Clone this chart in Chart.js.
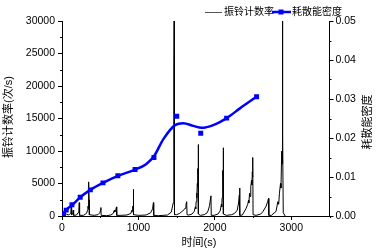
<!DOCTYPE html>
<html><head><meta charset="utf-8">
<script src="https://cdn.jsdelivr.net/npm/chart.js@4.4.1/dist/chart.umd.min.js"></script>
<style>html,body{margin:0;padding:0;background:#fff;}canvas{display:block;}</style>
</head><body>
<canvas id="c" width="378" height="252"></canvas>
<script>
// ---- data ----
const seriesNames = ['振铃计数率', '耗散能密度'];
const axisTitles = { x: '时间(s)', y: '振铃计数率(次/s)', y2: '耗散能密度' };

const countTime = [
  0,20,40,60,80,100,
  115,121,126,140,147,152,
  190,210,220,226,230,
  280,320,335,340,343,345,347,350,352,355,358,
  420,470,495,505,509,512,
  580,640,670,685,690,700,713,716,
  760,850,900,915,920,925,930,933,935,938,
  1000,1100,1160,1185,1196,1200,
  1260,1380,1430,1455,1462,1464,1467,1470,1474,
  1500,1540,1570,1600,1610,1622,1632,1636,
  1660,1700,1730,1745,1750,1755,1762,1766,1770,1775,1778,1780,1783,1786,
  1810,1860,1900,1914,1930,1949,1953,
  1990,2040,2070,2085,2090,2095,2100,2103,2105,2108,2110,2113,
  2150,2220,2258,2293,2310,2320,2324,2328,
  2360,2410,2430,2440,2445,2454,2460,2470,2480,2485,2490,2494,2497,2500,
  2540,2600,2628,2670,2690,2702,2706,
  2740,2800,2824,2835,2845,2859,2865,2875,2880,2883,2886,2890,2895,2920
];
const countRate = [
  0,200,100,300,150,250,
  400,1500,200,300,900,100,
  150,500,900,2050,100,
  100,400,900,1500,1100,2200,1700,3300,5250,2500,200,
  100,200,500,900,1300,100,
  50,150,400,900,600,800,1400,100,
  100,150,400,900,700,1500,1300,2400,4100,200,
  100,150,500,1100,2050,100,
  50,150,600,2000,4500,21500,30000,5000,200,
  200,400,700,1000,1200,1800,2200,200,
  150,300,700,1400,1100,2200,3500,2800,5000,4500,7300,6000,11000,300,
  100,200,500,900,1600,3100,100,
  100,300,800,1800,1400,2800,4500,3800,7000,5800,10500,300,
  100,200,400,900,2000,3200,4300,100,
  150,1200,1800,2400,2000,3500,3000,4500,5500,4800,6800,6000,9000,200,
  100,300,660,1500,2200,2700,100,
  100,700,2200,1800,3500,5000,4300,10000,8000,16000,30000,12000,500,0
];

const energyTime  = [20, 55, 130, 238, 371, 536, 731, 956, 1203, 1501, 1815, 2154, 2546];
const energyValue = [0.0005, 0.0015, 0.0029, 0.0048, 0.0067, 0.0085, 0.0103, 0.0119, 0.0150, 0.0256, 0.0212, 0.0251, 0.0306];

const fitTime  = [0, 52, 138, 238, 371, 536, 731, 956, 1100, 1203, 1326, 1479, 1587, 1718, 1828, 1979, 2154, 2328, 2546];
const fitValue = [0.0002, 0.0015, 0.0029, 0.0048, 0.0067, 0.0085, 0.0103, 0.0119, 0.0133, 0.0153, 0.0197, 0.0233, 0.0238, 0.0231, 0.0226, 0.0233, 0.0251, 0.0276, 0.0306];

const xTicks  = [0, 1000, 2000, 3000];
const xMinor  = [500, 1500, 2500, 3500];
const yTicks  = [0, 5000, 10000, 15000, 20000, 25000, 30000];
const yMinor  = [2500, 7500, 12500, 17500, 22500, 27500];
const y2Ticks = [0, 0.01, 0.02, 0.03, 0.04, 0.05];
const y2Minor = [0.005, 0.015, 0.025, 0.035, 0.045];

// ---- chart ----
const FONT = '"Liberation Sans", Arial, "Noto Sans CJK SC", sans-serif';
Chart.defaults.font.family = FONT;
Chart.defaults.font.size = 10.5;
Chart.defaults.color = '#000';

const BLUE = '#0000ff';

const bg = {
  id: 'bg',
  beforeDraw(chart) {
    const c = chart.ctx;
    c.save(); c.fillStyle = '#fff'; c.fillRect(0, 0, chart.width, chart.height); c.restore();
  }
};

const deco = {
  id: 'deco',
  afterDraw(chart) {
    const ctx = chart.ctx, a = chart.chartArea;
    const sx = chart.scales.x, sy = chart.scales.y, sy2 = chart.scales.y2;
    ctx.save();
    ctx.strokeStyle = '#000'; ctx.lineWidth = 1;
    ctx.beginPath();
    xMinor.forEach(v => { const p = Math.round(sx.getPixelForValue(v)) + 0.5; ctx.moveTo(p, a.bottom); ctx.lineTo(p, a.bottom + 2); });
    yMinor.forEach(v => { const p = Math.round(sy.getPixelForValue(v)) + 0.5; ctx.moveTo(a.left, p); ctx.lineTo(a.left - 2, p); });
    y2Minor.forEach(v => { const p = Math.round(sy2.getPixelForValue(v)) + 0.5; ctx.moveTo(a.right, p); ctx.lineTo(a.right + 2, p); });
    ctx.stroke();

    // axis titles
    ctx.fillStyle = '#000';
    ctx.font = '11px ' + FONT;
    ctx.textAlign = 'center'; ctx.textBaseline = 'middle';
    ctx.fillText(axisTitles.x, 199, 243);
    ctx.save(); ctx.translate(9, 117); ctx.rotate(-Math.PI / 2); ctx.fillText(axisTitles.y, 0, 0); ctx.restore();
    ctx.save(); ctx.translate(368, 122); ctx.rotate(-Math.PI / 2); ctx.fillText(axisTitles.y2, 0, 0); ctx.restore();

    // legend
    ctx.font = '10px ' + FONT;
    ctx.textAlign = 'left';
    const ly = 12;
    ctx.strokeStyle = '#555'; ctx.lineWidth = 1;
    ctx.beginPath(); ctx.moveTo(205, ly + 0.5); ctx.lineTo(222, ly + 0.5); ctx.stroke();
    ctx.fillText(seriesNames[0], 224, ly);
    ctx.strokeStyle = BLUE; ctx.lineWidth = 2.5;
    ctx.beginPath(); ctx.moveTo(272, ly); ctx.lineTo(291, ly); ctx.stroke();
    ctx.fillStyle = BLUE; ctx.fillRect(278.5, ly - 2.5, 5, 5);
    ctx.fillStyle = '#000';
    ctx.fillText(seriesNames[1], 292, ly);
    ctx.restore();
  }
};

const fixTicks = arr => s => { s.ticks = arr.map(v => ({ value: v })); };
const gridOpts = { drawOnChartArea: false, drawTicks: true, tickLength: 4, color: '#000' };

new Chart(document.getElementById('c'), {
  type: 'line',
  data: {
    datasets: [
      {
        label: seriesNames[1],
        data: energyTime.map((t, i) => ({ x: t, y: energyValue[i] })),
        yAxisID: 'y2', showLine: false, pointStyle: 'rect', pointRadius: 3.5,
        backgroundColor: BLUE, borderColor: BLUE, borderWidth: 0, order: 0
      },
      {
        label: seriesNames[1] + ' fit',
        data: fitTime.map((t, i) => ({ x: t, y: fitValue[i] })),
        yAxisID: 'y2', borderColor: BLUE, borderWidth: 2.5, pointRadius: 0,
        cubicInterpolationMode: 'monotone', fill: false, order: 1
      },
      {
        label: seriesNames[0],
        data: countTime.map((t, i) => ({ x: t, y: countRate[i] })),
        yAxisID: 'y', borderColor: '#000', borderWidth: 1, pointRadius: 0,
        tension: 0, fill: false, order: 2
      }
    ]
  },
  options: {
    responsive: false, animation: false, events: [],
    layout: { padding: { top: 21, left: 0, right: 0, bottom: 0 } },
    plugins: { legend: { display: false }, tooltip: { enabled: false } },
    scales: {
      x: {
        type: 'linear', min: 0, max: 3500,
        afterBuildTicks: fixTicks(xTicks),
        afterFit: s => { s.height = 36; },
        grid: gridOpts, border: { display: true, color: '#000', width: 1 },
        ticks: { padding: 2, maxRotation: 0, autoSkip: false, callback: v => String(v) }
      },
      y: {
        type: 'linear', position: 'left', min: 0, max: 30000,
        afterBuildTicks: fixTicks(yTicks),
        afterFit: s => { s.width = 62; },
        grid: gridOpts, border: { display: true, color: '#000', width: 1 },
        ticks: { padding: 3, autoSkip: false, callback: v => String(v) }
      },
      y2: {
        type: 'linear', position: 'right', min: 0, max: 0.05,
        afterBuildTicks: fixTicks(y2Ticks),
        afterFit: s => { s.width = 48.5; },
        grid: gridOpts, border: { display: true, color: '#000', width: 1 },
        ticks: { padding: 2, autoSkip: false, callback: v => Number(v).toFixed(2) }
      }
    }
  },
  plugins: [bg, deco]
});
</script>
</body></html>
